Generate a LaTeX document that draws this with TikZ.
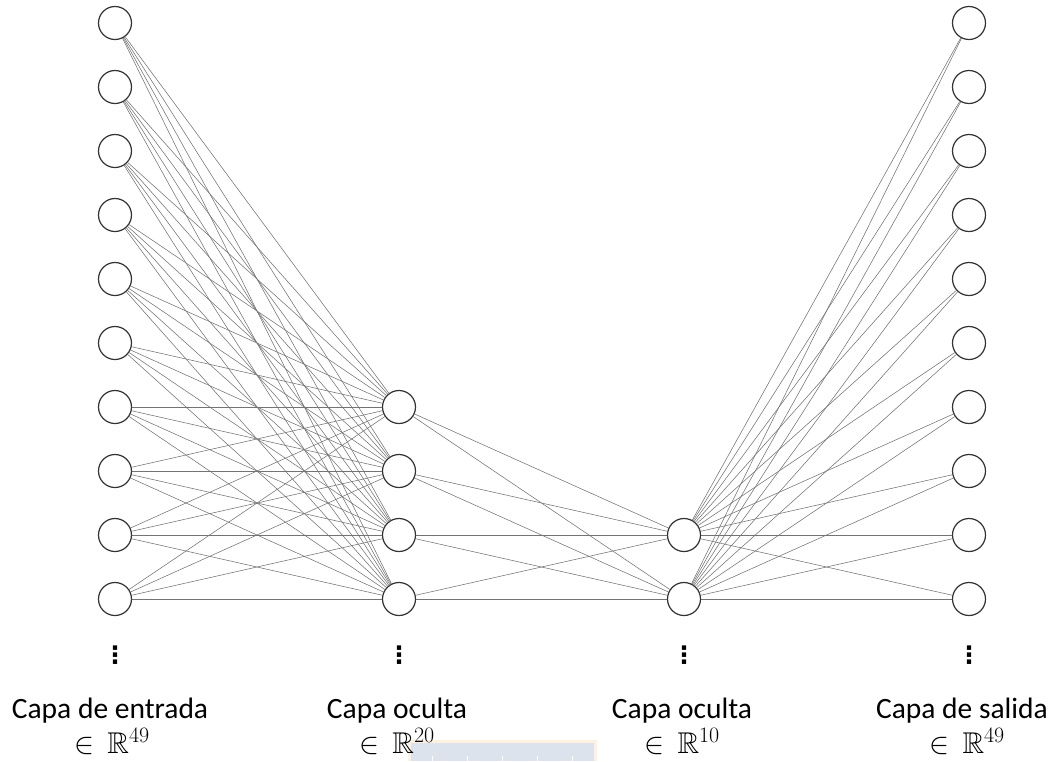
\RequirePackage{fix-cm}
\documentclass[tikz,border=0pt]{standalone}
\usepackage[no-math]{fontspec}
\usepackage{amssymb}
\setmainfont{Carlito}
\newfontfamily\symfont{DejaVu Sans}
\DeclareMathSizes{29.5}{30}{22}{16}
\definecolor{crestrim}{HTML}{FDF1E2}
\definecolor{crestfill}{HTML}{DCE3EC}
\begin{document}
\begin{tikzpicture}[x=1pt,y=-1pt,
  neuron/.style={circle,draw=black!80,line width=1.2pt,fill=white,minimum size=33pt,inner sep=0pt},
  link/.style={draw=black!55,line width=0.55pt},
  lbl/.style={anchor=base,inner sep=0pt,font=\fontsize{29.5}{34}\selectfont},
  moredots/.style={inner sep=0pt,font=\symfont\bfseries\fontsize{24}{24}\selectfont}]
\useasboundingbox (0,0) rectangle (1055,761);

% faint crest behind the bottom labels
\fill[crestrim] (408,740) rectangle (597,761);
\fill[crestfill] (411,743) rectangle (594,761);
\foreach \t in {432,467,502,537,572}
  \draw[white,line width=1pt] (\t,756) -- (\t,761);

% neurons
\foreach \i in {1,...,10} {
  \node[neuron] (in\i) at (115,{23+64*(\i-1)}) {};
  \node[neuron] (out\i) at (969,{23+64*(\i-1)}) {};
}
\foreach \j in {1,...,4}
  \node[neuron] (ha\j) at (399,{407+64*(\j-1)}) {};
\foreach \k in {1,2}
  \node[neuron] (hb\k) at (684,{535+64*(\k-1)}) {};

% weights
\foreach \i in {1,...,10}
  \foreach \j in {1,...,4}
    \draw[link] (in\i) -- (ha\j);
\foreach \j in {1,...,4}
  \foreach \k in {1,2}
    \draw[link] (ha\j) -- (hb\k);
\foreach \k in {1,2}
  \foreach \i in {1,...,10}
    \draw[link] (hb\k) -- (out\i);

% continuation marks
\node[moredots] (d1) at (115,655) {⋮};
\node[moredots] (d2) at (399,655) {⋮};
\node[moredots] (d3) at (684,655) {⋮};
\node[moredots] (d4) at (969,655) {⋮};

% layer captions
\node[lbl] (c1) at (110,718) {Capa de entrada};
\node[lbl] (s1) at (112,753) {$\in\,\mathbb{R}^{49}$};
\node[lbl] (c2) at (397,718) {Capa oculta};
\node[lbl] (s2) at (397,753) {$\in\,\mathbb{R}^{20}$};
\node[lbl] (c3) at (682,718) {Capa oculta};
\node[lbl] (s3) at (682,753) {$\in\,\mathbb{R}^{10}$};
\node[lbl] (c4) at (962,718) {Capa de salida};
\node[lbl] (s4) at (967,753) {$\in\,\mathbb{R}^{49}$};
\end{tikzpicture}
\end{document}
